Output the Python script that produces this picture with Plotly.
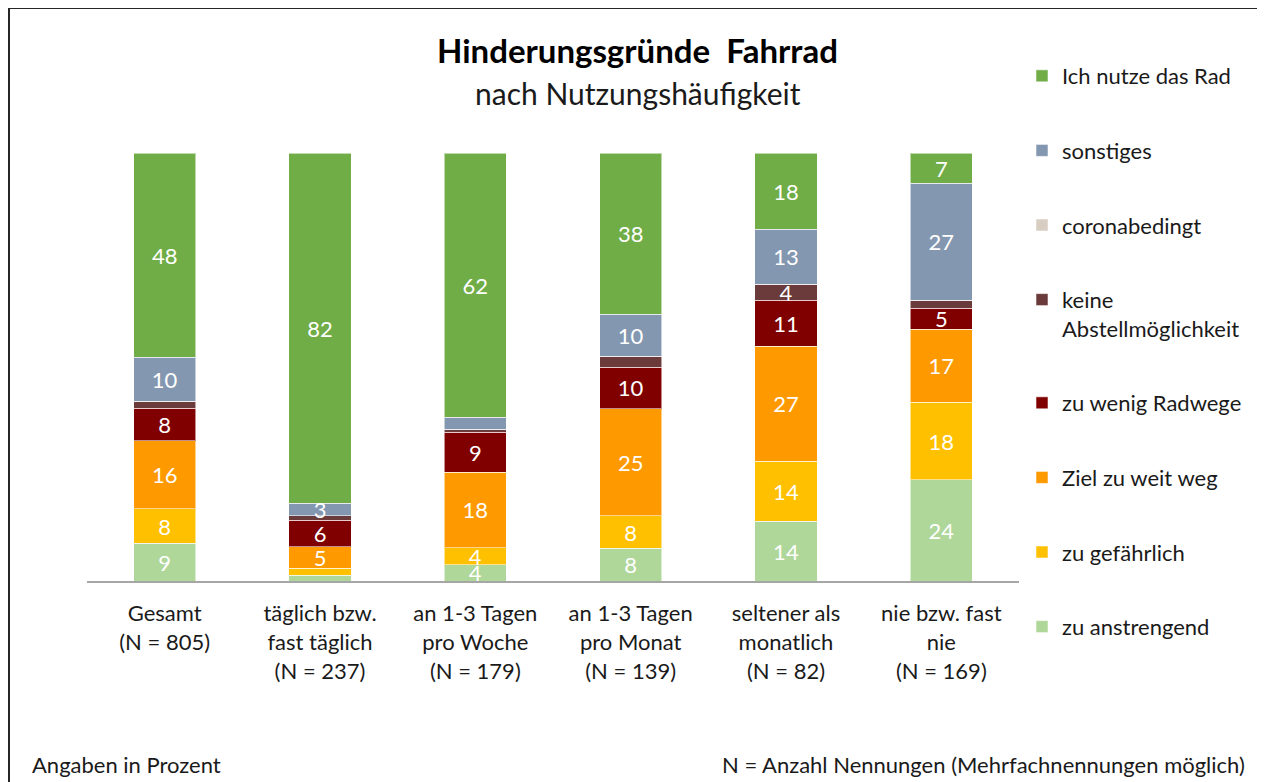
import plotly.graph_objects as go

categories = ["Gesamt", "täglich bzw.<br>fast täglich", "an 1-3 Tagen<br>pro Woche",
              "an 1-3 Tagen<br>pro Monat", "seltener als<br>monatlich", "nie bzw. fast<br>nie"]
n_values = [805, 237, 179, 139, 82, 169]

series_names = ["zu anstrengend", "zu gefährlich", "Ziel zu weit weg", "zu wenig Radwege",
                "keine<br>Abstellmöglichkeit", "coronabedingt", "sonstiges", "Ich nutze das Rad"]

zu_anstrengend = [8.8, 1.4, 3.8, 7.6, 14.0, 23.6]
zu_gefaehrlich = [8.1, 1.6, 4.0, 7.6, 14.0, 18.2]
ziel_zu_weit = [15.9, 5.0, 17.6, 25.1, 26.8, 17.0]
zu_wenig_radwege = [7.6, 6.2, 9.3, 9.6, 10.8, 4.9]
keine_abstellmoeglichkeit = [1.6, 1.0, 0.7, 2.6, 3.7, 1.9]
coronabedingt = [0, 0, 0, 0, 0, 0]
sonstiges = [10.3, 3.0, 2.9, 9.8, 12.9, 27.3]
ich_nutze_das_rad = [47.7, 81.8, 61.7, 37.7, 17.8, 7.1]

series_values = [zu_anstrengend, zu_gefaehrlich, ziel_zu_weit, zu_wenig_radwege,
                 keine_abstellmoeglichkeit, coronabedingt, sonstiges, ich_nutze_das_rad]
colors = ["#AFD79A", "#FFC000", "#FF9900", "#800000", "#6B3B3C", "#D8CDC1", "#8497B0", "#70AD47"]

FONT = "Lato"
TXT = "#1a1a1a"
labels = [f"{c}<br>(N = {n})" for c, n in zip(categories, n_values)]

fig = go.Figure()
for i, (name, vals, col) in enumerate(zip(series_names, series_values, colors)):
    fig.add_trace(go.Bar(
        x=labels, y=vals, name=name, legendgroup=name, legendrank=100 - i,
        marker=dict(color=col, line=dict(color="rgba(255,255,255,0.55)", width=1)),
        text=[f"{v:.0f}" if v >= 3 else "" for v in vals],
        textposition="inside", insidetextanchor="middle", textangle=0,
        constraintext="none", cliponaxis=False,
        textfont=dict(color="white", size=22, family=FONT),
        width=0.4, hoverinfo="skip",
    ))

# page body has an 8px margin; geometry below is given in screen pixels
OFF = 8
W, H = 1265 - OFF, 782 - OFF
L, R, T, B = 87 - OFF, 246, 153 - OFF, 201
pw, ph = W - L - R, H - T - B

def px(x):
    return (x - OFF - L) / pw

def py(y):
    return (H - B - (y - OFF)) / ph

fig.update_layout(
    width=W, height=H,
    margin=dict(l=L, r=R, t=T, b=B, autoexpand=False),
    barmode="stack", bargap=0.6,
    paper_bgcolor="white", plot_bgcolor="white",
    font=dict(family=FONT, size=22, color=TXT),
    xaxis=dict(showline=True, linecolor="#A6A6A6", linewidth=2, ticks="",
               tickfont=dict(size=22, family=FONT, color=TXT),
               ticklabelstandoff=12, showgrid=False, fixedrange=True),
    yaxis=dict(range=[0, 100], visible=False, showgrid=False, zeroline=False),
    legend=dict(x=px(1022), y=py(55), xanchor="left", yanchor="top",
                traceorder="grouped", tracegroupgap=43, valign="top",
                maxheight=760, font=dict(size=22, family=FONT, color=TXT), itemclick=False),
    showlegend=True,
)

fig.add_annotation(text="<b>Hinderungsgründe  Fahrrad</b>", x=px(637), y=py(50),
                   xref="paper", yref="paper", showarrow=False, yanchor="middle",
                   font=dict(size=33, family=FONT, color="#000000"))
fig.add_annotation(text="nach Nutzungshäufigkeit", x=px(638), y=py(93),
                   xref="paper", yref="paper", showarrow=False, yanchor="middle",
                   font=dict(size=30, family=FONT, color=TXT))
fig.add_annotation(text="Angaben in Prozent", x=px(30), y=py(764), xanchor="left", yanchor="middle",
                   xref="paper", yref="paper", showarrow=False,
                   font=dict(size=22, family=FONT, color=TXT))
fig.add_annotation(text="N = Anzahl Nennungen (Mehrfachnennungen möglich)", x=px(1247), y=py(764),
                   xanchor="right", yanchor="middle", xref="paper", yref="paper", showarrow=False,
                   font=dict(size=22, family=FONT, color=TXT))

fig.add_shape(type="rect", xref="paper", yref="paper",
              x0=px(9), x1=px(1259), y0=py(800), y1=py(8),
              line=dict(color="#262626", width=2), layer="below")

fig.write_html("out.html")
